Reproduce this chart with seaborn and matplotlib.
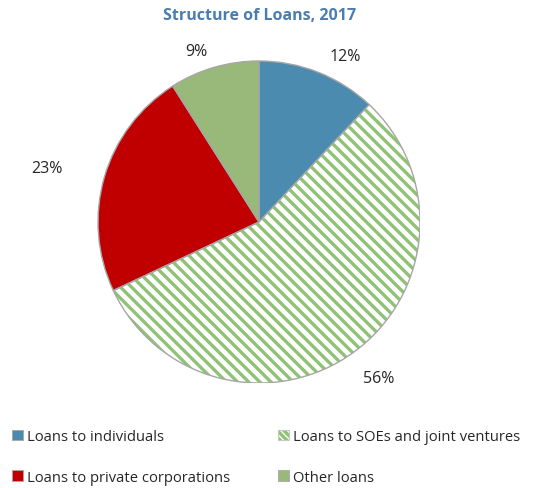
import matplotlib
matplotlib.use("Agg")
import matplotlib.pyplot as plt
from matplotlib.patches import Patch, Wedge
from matplotlib.legend_handler import HandlerTuple
import numpy as np
import seaborn as sns

categories = ["Loans to individuals", "Loans to SOEs and joint ventures",
              "Loans to private corporations", "Other loans"]
shares = [12, 56, 23, 9]
colors = ["#4a8baf", "#ffffff", "#c00000", "#98b97a"]
hatch_color = "#8fc274"
edge_gray = "#a6a6a6"
stripes = "\\\\\\"

sns.set_theme(style="white")
plt.rcParams["font.family"] = ["Open Sans", "DejaVu Sans"]
plt.rcParams["hatch.linewidth"] = 2.4

fig = plt.figure(figsize=(5.36, 4.89), dpi=100)
cx, cy, r = 259, 223, 161
W, H = 536, 489
ax = fig.add_axes([(cx - r) / W, (H - cy - r) / H, 2 * r / W, 2 * r / H])

wedges, _ = ax.pie(shares, colors=colors, startangle=90, counterclock=False,
                   wedgeprops=dict(edgecolor=edge_gray, linewidth=1.0))
# striped wedge: hatch drawn in green, outline redrawn in gray on top
soe = wedges[1]
soe.set_edgecolor(hatch_color)
soe.set_linewidth(0)
soe.set_hatch(stripes)
ax.add_patch(Wedge(soe.center, soe.r, soe.theta1, soe.theta2,
                   facecolor="none", edgecolor=edge_gray, linewidth=1.0))
ax.set_xlim(-1, 1)
ax.set_ylim(-1, 1)
ax.set_aspect("equal")
ax.axis("off")

# percentage labels placed around each wedge
label_dist = [1.16, 1.22, 1.36, 1.13]
angle_shift = [-6, 1.5, 2.0, 4]
for w, v, d, s in zip(wedges, shares, label_dist, angle_shift):
    mid = np.deg2rad((w.theta1 + w.theta2) / 2 + s)
    ax.text(d * np.cos(mid), d * np.sin(mid), f"{v}%", ha="center",
            va="center", fontsize=11.5, color="#262626")

fig.text(0.485, 1 - 16 / H, "Structure of Loans, 2017", ha="center",
         va="center", fontsize=11.5, fontweight="bold", color="#4a7eb0")

handles = []
for c, col in zip(categories, colors):
    if col == "#ffffff":
        handles.append((Patch(facecolor="white", edgecolor=hatch_color,
                              hatch="\\\\\\\\\\", linewidth=0),
                        Patch(facecolor="none", edgecolor="#c8c8c8",
                              linewidth=0.8)))
    else:
        handles.append(Patch(facecolor=col, edgecolor=edge_gray,
                             linewidth=0.6))
order = [0, 2, 1, 3]
leg = fig.legend([handles[i] for i in order], [categories[i] for i in order],
                 ncol=2, loc="lower left", bbox_to_anchor=(12 / W, 3 / H),
                 borderpad=0, borderaxespad=0,
                 handler_map={tuple: HandlerTuple(ndivide=1, pad=0)},
                 frameon=False, fontsize=10.6, handlelength=0.75,
                 handleheight=0.75, handletextpad=0.25, columnspacing=3.3,
                 labelspacing=1.75, labelcolor="#262626")

fig.savefig("out.png", dpi=100)
